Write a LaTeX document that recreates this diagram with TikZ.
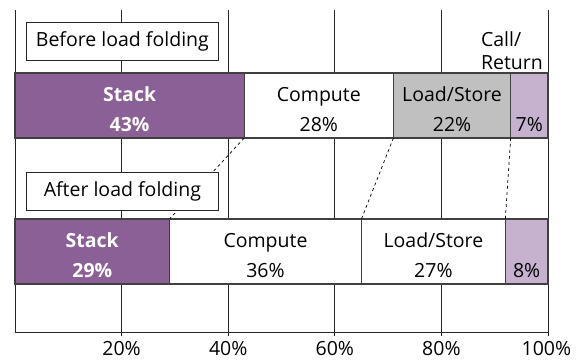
\documentclass[tikz,border=0pt]{standalone}
\usepackage{fontspec}
\setmainfont{Open Sans}
\usetikzlibrary{positioning}
\definecolor{stackpurple}{HTML}{8A6096}
\definecolor{callpurple}{HTML}{C6B2CF}
\definecolor{loadgray}{HTML}{C0C0C0}
\newcommand{\pcw}{5.33pt}
\tikzset{
x=5.33pt, y=1pt,
every node/.style={font=\fontsize{19.5}{30}\selectfont},
grid line/.style={draw=black!85, line width=0.9pt},
seg/.style={draw=black!75, fill=white, line width=1.2pt, minimum height=65pt,
  inner sep=0pt, outer sep=0pt, align=center, text height=53pt, text depth=0pt},
stack seg/.style={seg, fill=stackpurple, text=white,
  font=\fontsize{19.5}{30}\selectfont\bfseries},
load seg/.style={seg, fill=loadgray},
call seg/.style={seg, fill=callpurple},
fold line/.style={dashed, draw=black, line width=0.7pt},
label box/.style={draw=black!85, fill=white, line width=0.9pt,
  minimum width=36*\pcw, minimum height=38pt, inner sep=0pt},
tick label/.style={anchor=base, inner sep=0pt},
}

\begin{document}
\begin{tikzpicture}
        \useasboundingbox (-2.814,0) rectangle (106.57,360);

        % grid
        \draw[grid line] (0,350) -- (0,28);
        \draw[grid line] (20,350) -- (20,24);
        \draw[grid line] (40,350) -- (40,24);
        \draw[grid line] (60,350) -- (60,24);
        \draw[grid line] (80,350) -- (80,24);
        \draw[grid line] (100,350) -- (100,24);
        \draw[grid line] (0,28) -- (100,28);

        \node[tick label] (t20) at (20,4) {20\%};
        \node[tick label] (t40) at (40,4) {40\%};
        \node[tick label] (t60) at (60,4) {60\%};
        \node[tick label] (t80) at (80,4) {80\%};
        \node[tick label] (t100) at (99.7,4) {100\%};

        % before
        \node[stack seg, minimum width=43*\pcw, anchor=north west] (stack1) at (0,287) {Stack\\43\%};
        \node[seg, minimum width=28*\pcw, right=0pt of stack1] (compute1) {Compute\\28\%};
        \node[load seg, minimum width=22*\pcw, right=0pt of compute1] (load1) {Load/Store\\22\%};
        \node[call seg, minimum width=7*\pcw, right=0pt of load1] (call1) {\phantom{Sk}\\7\%};
        \node[align=left, anchor=south east, inner sep=3pt,
          font=\fontsize{19.5}{23}\selectfont] (calltext) at ([xshift=-2pt]call1.north east) {Call/\\Return};

        % after
        \node[stack seg, minimum width=29*\pcw, anchor=north west] (stack2) at (0,141) {Stack\\29\%};
        \node[seg, minimum width=36*\pcw, right=0pt of stack2] (compute2) {Compute\\36\%};
        \node[seg, minimum width=27*\pcw, right=0pt of compute2] (load2) {Load/Store\\27\%};
        \node[call seg, minimum width=8*\pcw, right=0pt of load2] (call2) {\phantom{Sk}\\8\%};

        \draw[fold line] (stack1.south east) -- (stack2.north east);
        \draw[fold line] (compute1.south east) -- (compute2.north east);
        \draw[fold line] (load1.south east) -- (load2.north east);

        \node[label box, anchor=north west] (before) at (2.06,338) {Before load folding};
        \node[label box, anchor=north west] (after) at (2.06,188) {After load folding};

    \end{tikzpicture}
\end{document}
